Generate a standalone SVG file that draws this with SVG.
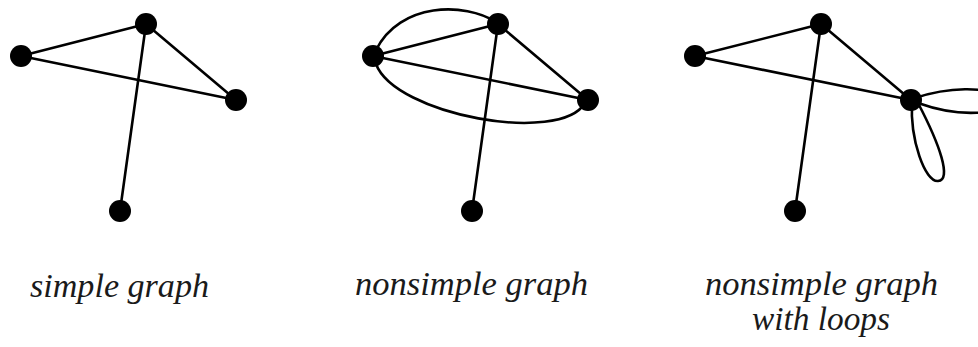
<svg xmlns="http://www.w3.org/2000/svg" width="978" height="347" viewBox="0 0 978 347">
<style>
.e{stroke:#000;stroke-width:2.6;fill:none;stroke-linecap:round}
.n{fill:#000}
.t{font-family:"Liberation Serif","Times New Roman",serif;font-style:italic;font-size:33px;fill:#1a1a1a}
</style>
<rect width="978" height="347" fill="#fff"/>
<g id="connectors">
<line class="e" x1="21" y1="56" x2="146" y2="24"/>
<line class="e" x1="21" y1="56" x2="236" y2="100"/>
<line class="e" x1="146" y1="24" x2="236" y2="100"/>
<line class="e" x1="146" y1="24" x2="120" y2="211"/>
<line class="e" x1="373" y1="56" x2="498" y2="24"/>
<line class="e" x1="373" y1="56" x2="588" y2="100"/>
<line class="e" x1="498" y1="24" x2="588" y2="100"/>
<line class="e" x1="498" y1="24" x2="472" y2="211"/>
<path class="e" d="M376 50 C400 2,465 2,496 22"/>
<path class="e" d="M376 64 C395 115,560 145,585 103"/>
<line class="e" x1="695" y1="56" x2="821" y2="24"/>
<line class="e" x1="695" y1="56" x2="911" y2="100"/>
<line class="e" x1="821" y1="24" x2="911" y2="100"/>
<line class="e" x1="821" y1="24" x2="795" y2="211"/>
<path class="e" d="M912 102 C910 140,925 182,938 181 C952 180,940 145,918 103"/>
<path class="e" d="M915 98 C945 88,990 84,1000 100 C1005 115,960 118,918 103"/>
</g>
<g id="g1-a"><circle class="n" cx="21" cy="56" r="11"/></g>
<g id="g1-b"><circle class="n" cx="146" cy="24" r="11"/></g>
<g id="g1-c"><circle class="n" cx="236" cy="100" r="11"/></g>
<g id="g1-d"><circle class="n" cx="120" cy="211" r="11"/></g>
<g id="g2-a"><circle class="n" cx="373" cy="56" r="11"/></g>
<g id="g2-b"><circle class="n" cx="498" cy="24" r="11"/></g>
<g id="g2-c"><circle class="n" cx="588" cy="100" r="11"/></g>
<g id="g2-d"><circle class="n" cx="472" cy="211" r="11"/></g>
<g id="g3-a"><circle class="n" cx="695" cy="56" r="11"/></g>
<g id="g3-b"><circle class="n" cx="821" cy="24" r="11"/></g>
<g id="g3-c"><circle class="n" cx="911" cy="100" r="11"/></g>
<g id="g3-d"><circle class="n" cx="795" cy="211" r="11"/></g>
<g id="labels">
<text class="t" x="30" y="297" textLength="179" lengthAdjust="spacingAndGlyphs">simple graph</text>
<text class="t" x="355" y="295" textLength="233" lengthAdjust="spacingAndGlyphs">nonsimple graph</text>
<text class="t" x="705" y="295" textLength="233" lengthAdjust="spacingAndGlyphs">nonsimple graph</text>
<text class="t" x="752" y="330" textLength="138" lengthAdjust="spacingAndGlyphs">with loops</text>
</g>
</svg>
